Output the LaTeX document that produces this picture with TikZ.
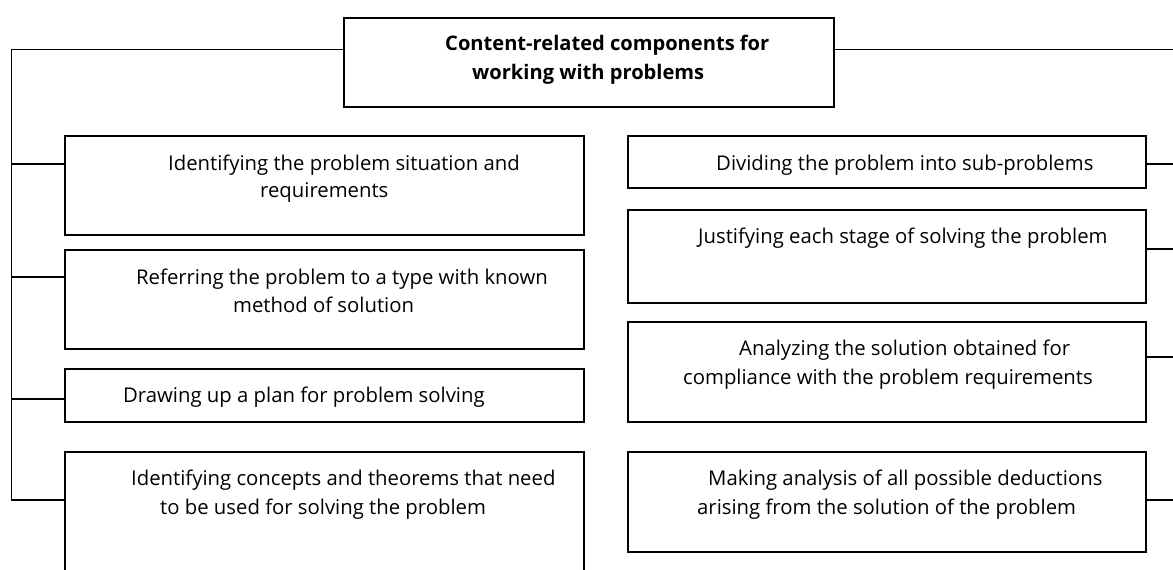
\documentclass[tikz,border=0pt]{standalone}
\usepackage{fontspec}
\setmainfont{Open Sans}
\begin{document}
\begin{tikzpicture}[x=1pt,y=-1pt,
  box/.style={draw, line width=2pt, rectangle, anchor=north west, inner sep=0pt},
  conn/.style={line width=1.5pt},
  txt/.style={anchor=base west, inner sep=0pt, font=\fontsize{20.3}{24}\selectfont},
  ttl/.style={anchor=base west, inner sep=0pt, font=\fontsize{20.1}{24}\selectfont\bfseries}]
\useasboundingbox (0,0) rectangle (1173,570);
\clip (0,0) rectangle (1173,570);
\fill[white] (0,0) rectangle (1173,570);
% boxes
\node[box, minimum width=490pt, minimum height=89pt] (T) at (343,17) {};
\node[box, minimum width=518.5pt, minimum height=99pt] (L1) at (64,135) {};
\node[box, minimum width=518.5pt, minimum height=99pt] (L2) at (64,249) {};
\node[box, minimum width=518.5pt, minimum height=53pt] (L3) at (64,368) {};
\node[box, minimum width=518.5pt, minimum height=140pt] (L4) at (64,451) {};
\node[box, minimum width=518pt, minimum height=52pt] (R1) at (627,135) {};
\node[box, minimum width=518pt, minimum height=93pt] (R2) at (627,209) {};
\node[box, minimum width=518pt, minimum height=100pt] (R3) at (627,321) {};
\node[box, minimum width=518pt, minimum height=100pt] (R4) at (627,451) {};
% texts
\node[ttl] (t1) at (445,50) {Content-related components for};
\node[ttl] (t2) at (472,79) {working with problems};
\node[txt] (a1) at (168,170) {Identifying the problem situation and};
\node[txt] (a2) at (260,197) {requirements};
\node[txt] (b1) at (136,284) {Referring the problem to a type with known};
\node[txt] (b2) at (233,312) {method of solution};
\node[txt] (c1) at (123,402) {Drawing up a plan for problem solving};
\node[txt] (d1) at (131,485) {Identifying concepts and theorems that need};
\node[txt] (d2) at (160,514) {to be used for solving the problem};
\node[txt] (e1) at (716,170) {Dividing the problem into sub-problems};
\node[txt] (f1) at (698,243) {Justifying each stage of solving the problem};
\node[txt] (g1) at (739,355) {Analyzing the solution obtained for};
\node[txt] (g2) at (683,384) {compliance with the problem requirements};
\node[txt] (h1) at (708,485) {Making analysis of all possible deductions};
\node[txt] (h2) at (697,514) {arising from the solution of the problem};
% spine coordinates
\coordinate (tl) at (11.5,49.5);
\coordinate (lend) at (11.5,500);
\coordinate (tr) at (1180,49.5);
\coordinate (rend) at (1180,500);
\coordinate (l1) at (11.5,164);
\coordinate (l2) at (11.5,277);
\coordinate (l3) at (11.5,399);
\coordinate (r1) at (1180,164);
\coordinate (r2) at (1180,249);
\coordinate (r3) at (1180,357);
% connectors
\draw[conn] (T.west |- tl) -- (tl) -- (lend) -- (lend -| L4.west);
\draw[conn] (T.east |- tr) -- (tr) -- (rend) -- (rend -| R4.east);
\draw[conn] (l1) -- (l1 -| L1.west);
\draw[conn] (l2) -- (l2 -| L2.west);
\draw[conn] (l3) -- (l3 -| L3.west);
\draw[conn] (r1) -- (r1 -| R1.east);
\draw[conn] (r2) -- (r2 -| R2.east);
\draw[conn] (r3) -- (r3 -| R3.east);
\end{tikzpicture}
\end{document}
